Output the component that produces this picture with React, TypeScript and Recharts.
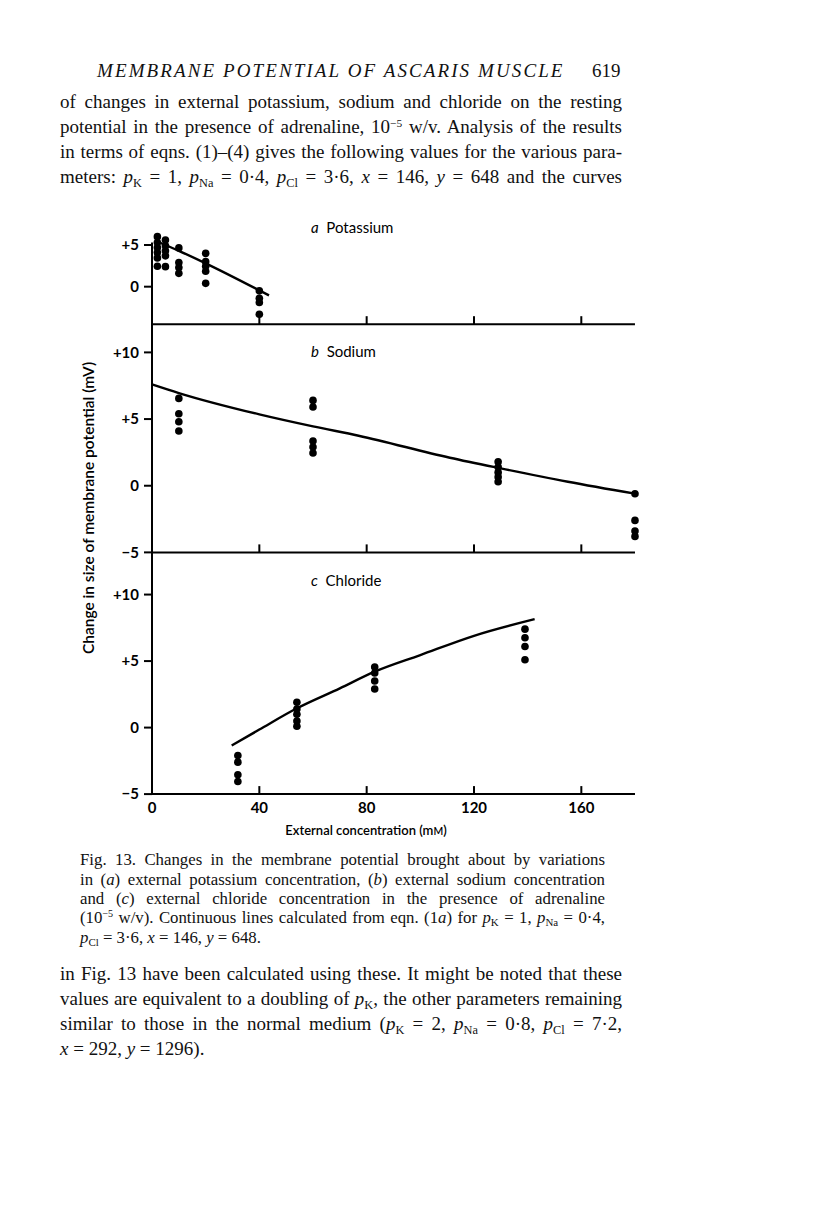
import React from 'react';
import { ComposedChart, Scatter, Line, XAxis, YAxis, ReferenceLine } from 'recharts';

// ---- data (x: external concentration mM, y: change in potential mV) ----
const potassiumDots: [number, number][] = [
  [2, 6.0], [2, 5.3], [2, 4.7], [2, 4.1], [2, 3.45], [2, 2.45],
  [5, 5.6], [5, 4.9], [5, 4.3], [5, 3.7], [5, 2.4],
  [10, 4.65], [10, 2.9], [10, 2.3], [10, 1.6],
  [20, 4.0], [20, 3.0], [20, 2.45], [20, 1.85], [20, 0.4],
  [40, -0.5], [40, -1.4], [40, -1.9], [40, -3.3],
];
const potassiumCurve: [number, number][] = [
  [2.8, 5.3], [10, 4.3], [20, 2.8], [43.6, -1.05],
];
const sodiumDots: [number, number][] = [
  [10, 6.55], [10, 5.4], [10, 4.8], [10, 4.1],
  [60, 6.4], [60, 5.9], [60, 3.35], [60, 2.9], [60, 2.45],
  [129, 1.8], [129, 1.4], [129, 1.0], [129, 0.65], [129, 0.3],
  [180, -0.6], [180, -2.6], [180, -3.4], [180, -3.8],
];
const sodiumCurve: [number, number][] = [
  [0, 7.6], [10, 6.95], [40, 5.35], [60, 4.45], [77, 3.75], [111, 2.1], [130, 1.3], [155, 0.3], [180, -0.6],
];
const chlorideDots: [number, number][] = [
  [32, -2.1], [32, -2.6], [32, -3.55], [32, -4.05],
  [54, 1.9], [54, 1.4], [54, 1.0], [54, 0.5], [54, 0.1],
  [83, 4.55], [83, 4.1], [83, 3.5], [83, 2.9],
  [139, 7.4], [139, 6.75], [139, 6.1], [139, 5.1],
];
const chlorideCurve: [number, number][] = [
  [29.7, -1.35], [40, -0.15], [54, 1.45], [70, 2.95], [83, 4.2], [100, 5.45], [120, 6.9], [142.6, 8.15],
];
const xTicks = [0, 40, 80, 120, 160];
const yTicksA = [0, 5];
const yTicksBC = [-5, 0, 5, 10];

const toObj = (arr: [number, number][]) => arr.map(([x, y]) => ({ x, y }));

const SANS = 'Lato, "Open Sans", sans-serif';
const SERIF = '"Liberation Serif", "Times New Roman", serif';

const fmtY = (v: number) => (v > 0 ? `+${v}` : v < 0 ? `\u2212${Math.abs(v)}` : '0');

const Dot = (p: any) => <circle cx={p.cx} cy={p.cy} r={3.8} fill="#000" />;

const makeXTick = (showLabel: boolean) => (p: any) => (
  <g>
    {p.payload.value !== 0 && (
      <line x1={p.x} x2={p.x} y1={p.y} y2={p.y - 8} stroke="#000" strokeWidth={2} />
    )}
    {showLabel && (
      <text x={p.x} y={p.y + 19} textAnchor="middle" fill="#000" fontSize={15} fontWeight={700} fontFamily={SANS}>
        {p.payload.value}
      </text>
    )}
  </g>
);

type PanelProps = {
  top: number;
  height: number;
  marginTop: number;
  xHeight: number;
  domain: [number, number];
  ticks: number[];
  dots: [number, number][];
  curve: [number, number][];
  showLabels: boolean;
  axisSegTop?: number;
};

const Panel = ({ top, height, marginTop, xHeight, domain, ticks, dots, curve, showLabels, axisSegTop }: PanelProps) => (
  <div style={{ position: 'absolute', left: 0, top }}>
    <ComposedChart width={655} height={height} margin={{ top: marginTop, right: 20, bottom: 0, left: 0 }}>
      <XAxis
        type="number"
        dataKey="x"
        domain={[0, 180]}
        ticks={xTicks}
        axisLine={{ stroke: '#000', strokeWidth: 2 }}
        tickLine={false}
        tickSize={0}
        tickMargin={0}
        height={xHeight}
        tick={makeXTick(showLabels)}
        interval={0}
      />
      <YAxis
        type="number"
        dataKey="y"
        domain={domain}
        ticks={ticks}
        width={152}
        interval={0}
        tickFormatter={fmtY}
        axisLine={axisSegTop === undefined ? { stroke: '#000', strokeWidth: 2 } : false}
        tickLine={{ stroke: '#000', strokeWidth: 2 }}
        tickSize={8}
        tickMargin={5}
        tick={{ fill: '#000', fontSize: 15, fontWeight: 700, fontFamily: SANS }}
      />
      {axisSegTop !== undefined && (
        <ReferenceLine
          segment={[{ x: 0, y: domain[0] }, { x: 0, y: axisSegTop }]}
          stroke="#000"
          strokeWidth={2}
        />
      )}
      <Line
        data={toObj(curve)}
        dataKey="y"
        type="monotone"
        stroke="#000"
        strokeWidth={2.4}
        dot={false}
        activeDot={false}
        isAnimationActive={false}
      />
      <Scatter data={toObj(dots)} dataKey="y" shape={Dot} isAnimationActive={false} />
    </ComposedChart>
  </div>
);

const lineStyle = (top: number, left: number, width: number, size: number, justify = true): React.CSSProperties => ({
  position: 'absolute',
  top,
  left,
  width,
  fontSize: size,
  lineHeight: `${size + 4}px`,
  fontFamily: SERIF,
  color: '#111',
  textAlign: justify ? 'justify' : 'left',
  textAlignLast: justify ? 'justify' : 'left',
});

const supStyle: React.CSSProperties = { fontSize: '0.6em', position: 'relative', top: '-0.55em', lineHeight: 0, verticalAlign: 'baseline' };
const subStyle: React.CSSProperties = { fontSize: '0.65em', position: 'relative', top: '0.3em', lineHeight: 0, verticalAlign: 'baseline' };

const P = ({ s }: { s: string }) => (
  <>
    <i>p</i>
    <span style={subStyle}>{s}</span>
  </>
);

const Exp = () => (
  <>
    10<span style={supStyle}>−5</span>
  </>
);

const panelLabel = (top: number, letter: string, name: string) => (
  <div style={{ position: 'absolute', left: 311, top, fontFamily: SANS, fontSize: 15, color: '#000' }}>
    <i>{letter}</i>&nbsp;&nbsp;{name}
  </div>
);

export default function App() {
  return (
    <div style={{ position: 'absolute', left: 0, top: 0, width: 816, height: 1227, background: '#fff', overflow: 'hidden' }}>
      {/* running head */}
      <div style={{ position: 'absolute', top: 60, left: 97, fontFamily: SERIF, fontSize: 19, fontStyle: 'italic', letterSpacing: 2.1, color: '#111', whiteSpace: 'nowrap' }}>
        MEMBRANE POTENTIAL OF ASCARIS MUSCLE
      </div>
      <div style={{ position: 'absolute', top: 60, left: 592, fontFamily: SERIF, fontSize: 19, color: '#111' }}>619</div>

      {/* top paragraph */}
      <div style={lineStyle(90, 60, 562, 19)}>of changes in external potassium, sodium and chloride on the resting</div>
      <div style={lineStyle(115, 60, 562, 19)}>
        potential in the presence of adrenaline, <Exp /> w/v. Analysis of the results
      </div>
      <div style={lineStyle(140, 60, 562, 19)}>in terms of eqns. (1)–(4) gives the following values for the various para-</div>
      <div style={lineStyle(165, 60, 562, 19)}>
        meters: <P s="K" /> = 1, <P s="Na" /> = 0·4, <P s="Cl" /> = 3·6, <i>x</i> = 146, <i>y</i> = 648 and the curves
      </div>

      {/* chart panels */}
      <Panel top={225} height={109.2} marginTop={10} xHeight={10} domain={[-4.5, 6.2]} ticks={yTicksA}
        dots={potassiumDots} curve={potassiumCurve} showLabels={false} axisSegTop={5.3} />
      <Panel top={319} height={243.4} marginTop={5} xHeight={10} domain={[-5, 12.13]} ticks={yTicksBC}
        dots={sodiumDots} curve={sodiumCurve} showLabels={false} />
      <Panel top={547.4} height={277.1} marginTop={5} xHeight={30} domain={[-5, 13.2]} ticks={yTicksBC}
        dots={chlorideDots} curve={chlorideCurve} showLabels={true} />

      {panelLabel(218, 'a', 'Potassium')}
      {panelLabel(342, 'b', 'Sodium')}
      {panelLabel(571, 'c', 'Chloride')}

      {/* axis titles */}
      <div style={{ position: 'absolute', left: 366, top: 830, transform: 'translate(-50%, -50%)', fontFamily: SANS, fontSize: 13, fontWeight: 600, color: '#000', whiteSpace: 'nowrap' }}>
        External concentration (m<span style={{ fontSize: '0.8em' }}>M</span>)
      </div>
      <div style={{ position: 'absolute', left: 88, top: 508, transform: 'translate(-50%, -50%) rotate(-90deg)', fontFamily: SANS, fontSize: 15.5, fontWeight: 600, color: '#000', whiteSpace: 'nowrap' }}>
        Change in size of membrane potential (mV)
      </div>

      {/* caption */}
      <div style={lineStyle(850, 80, 525, 16.8)}>Fig. 13. Changes in the membrane potential brought about by variations</div>
      <div style={lineStyle(870, 80, 525, 16.8)}>in (<i>a</i>) external potassium concentration, (<i>b</i>) external sodium concentration</div>
      <div style={lineStyle(889, 80, 525, 16.8)}>and (<i>c</i>) external chloride concentration in the presence of adrenaline</div>
      <div style={lineStyle(908, 80, 525, 16.8)}>
        (<Exp /> w/v). Continuous lines calculated from eqn. (1<i>a</i>) for <P s="K" /> = 1, <P s="Na" /> = 0·4,
      </div>
      <div style={lineStyle(928, 80, 525, 16.8, false)}>
        <P s="Cl" /> = 3·6, <i>x</i> = 146, <i>y</i> = 648.
      </div>

      {/* following paragraph */}
      <div style={lineStyle(962, 60, 562, 19)}>in Fig. 13 have been calculated using these. It might be noted that these</div>
      <div style={lineStyle(987, 60, 562, 19)}>
        values are equivalent to a doubling of <P s="K" />, the other parameters remaining
      </div>
      <div style={lineStyle(1012, 60, 562, 19)}>
        similar to those in the normal medium (<P s="K" /> = 2, <P s="Na" /> = 0·8, <P s="Cl" /> = 7·2,
      </div>
      <div style={lineStyle(1037, 60, 562, 19, false)}>
        <i>x</i> = 292, <i>y</i> = 1296).
      </div>
    </div>
  );
}
